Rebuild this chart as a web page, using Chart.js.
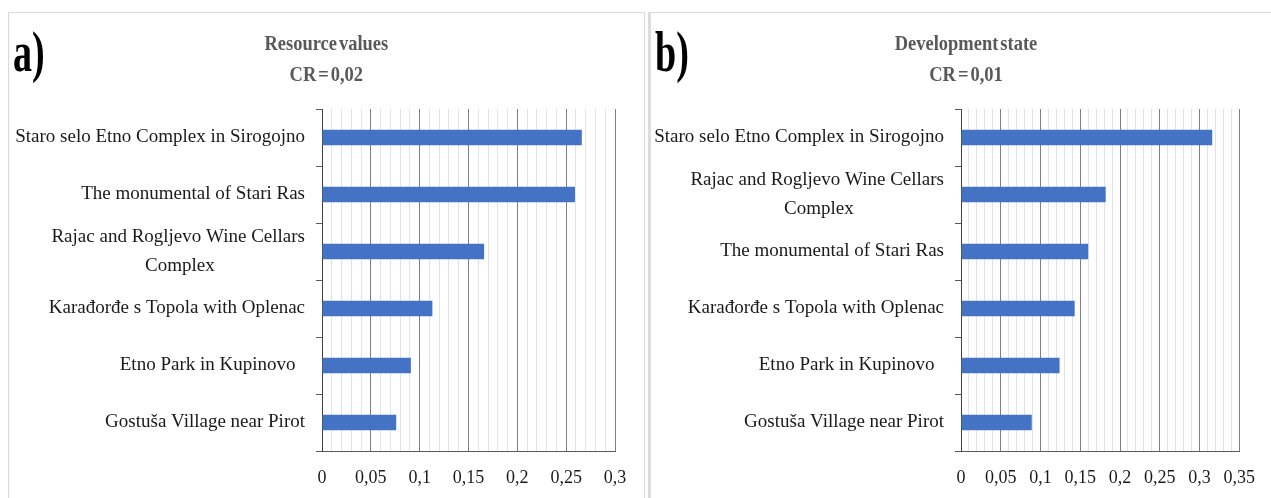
<!DOCTYPE html>
<html>
<head>
<meta charset="utf-8">
<script src="https://cdn.jsdelivr.net/npm/chart.js@4.4.1/dist/chart.umd.min.js"></script>
<style>
  html, body { margin: 0; padding: 0; background: #fff; }
  body { width: 1271px; height: 498px; position: relative; overflow: hidden; font-family: 'Liberation Serif', serif; }
  .panel { position: absolute; top: 12px; border-top: 1px solid #d9d9d9; }
  #panelA { left: 8px; width: 635px; height: 490px; border-left: 1px solid #d9d9d9; border-right: 1px solid #d9d9d9; }
  #panelB { left: 648px; width: 640px; height: 490px; border-left: 3px solid #dcdcdc; }
  canvas { position: absolute; top: 0; }
  #chartA { left: 0; }
  #chartB { left: 649px; }
  .letter { position: absolute; top: 24px; font: bold 56px/56px 'Liberation Serif', serif; color: #000;
            transform: scaleX(0.68); transform-origin: left top; }
  .title { position: absolute; top: 28px; text-align: center; font: bold 21px/31px 'Liberation Serif', serif; color: #595959; }
  .title span { display: inline-block; transform: scaleX(0.88); word-spacing: -3px; }
</style>
</head>
<body>
<div class="panel" id="panelA"></div>
<div class="panel" id="panelB"></div>
<canvas id="chartA" width="643" height="498"></canvas>
<canvas id="chartB" width="622" height="498"></canvas>
<div class="letter" style="left:13px">a)</div>
<div class="letter" style="left:655px">b)</div>
<div class="title" style="left:8px;width:636px"><span>Resource values<br>CR = 0,02</span></div>
<div class="title" style="left:649px;width:634px"><span>Development state<br>CR = 0,01</span></div>
<script>
// Trailing no-break spaces keep the second line of a wrapped label centred under the first.
var pad = function (n) { return '\u00a0'.repeat(n); };

var labelsA = [
  'Staro selo Etno Complex in Sirogojno',
  'The monumental of Stari Ras',
  ['Rajac and Rogljevo Wine Cellars', 'Complex' + pad(19)],
  'Karađorđe s Topola with Oplenac',
  'Etno Park in Kupinovo' + pad(2),
  'Gostuša Village near Pirot',
];
var valuesA = [0.266, 0.259, 0.166, 0.113, 0.091, 0.076];

var labelsB = [
  'Staro selo Etno Complex in Sirogojno',
  ['Rajac and Rogljevo Wine Cellars', 'Complex' + pad(19)],
  'The monumental of Stari Ras',
  'Karađorđe s Topola with Oplenac',
  'Etno Park in Kupinovo' + pad(2),
  'Gostuša Village near Pirot',
];
var valuesB = [0.316, 0.182, 0.16, 0.143, 0.124, 0.089];

// Major ticks every 0.05, minor grid every 0.01.
function isMajor(value) {
  return Math.round(value * 100) % 5 === 0;
}

function formatTick(value) {
  return String(Math.round(value * 100) / 100).replace('.', ',');
}

function drawBars(canvasId, labels, values, max, axisWidth, rightPad) {
  new Chart(document.getElementById(canvasId), {
    type: 'bar',
    data: {
      labels: labels,
      datasets: [{
        data: values,
        backgroundColor: '#4472c4',
        borderWidth: 0,
        barPercentage: 0.27,
        categoryPercentage: 1,
      }],
    },
    options: {
      indexAxis: 'y',
      responsive: false,
      animation: false,
      layout: { padding: { top: 109, right: rightPad, bottom: 0, left: 0 } },
      plugins: { legend: { display: false }, tooltip: { enabled: false } },
      scales: {
        x: {
          min: 0,
          max: max,
          afterFit: function (scale) { scale.height = 47; },
          ticks: {
            stepSize: 0.01,
            autoSkip: false,
            maxRotation: 0,
            padding: 16,
            color: '#1a1a1a',
            font: { family: 'Liberation Serif', size: 18 },
            callback: function (value) { return isMajor(value) ? formatTick(value) : ''; },
          },
          grid: {
            drawTicks: false,
            color: function (ctx) { return isMajor(ctx.tick.value) ? '#7f7f7f' : '#e3e3e3'; },
          },
          border: { color: '#595959' },
        },
        y: {
          afterFit: function (scale) { scale.width = axisWidth; },
          ticks: {
            autoSkip: false,
            padding: 11,
            color: '#1a1a1a',
            font: { family: 'Liberation Serif', size: 19, lineHeight: 1.55 },
          },
          grid: { drawOnChartArea: false, drawTicks: true, tickLength: 6, offset: true, color: '#595959' },
          border: { color: '#404040' },
        },
      },
    },
  });
}

drawBars('chartA', labelsA, valuesA, 0.3, 322, 28);
drawBars('chartB', labelsB, valuesB, 0.35, 312, 21);
</script>
</body>
</html>
